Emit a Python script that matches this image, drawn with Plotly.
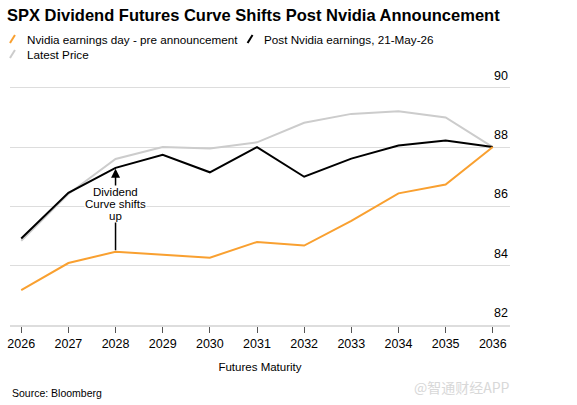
import plotly.graph_objects as go

years = [2026, 2027, 2028, 2029, 2030, 2031, 2032, 2033, 2034, 2035, 2036]
pre_announcement = [83.18, 84.09, 84.47, 84.38, 84.27, 84.80, 84.68, 85.51, 86.44, 86.74, 88.0]
post_earnings = [84.92, 86.46, 87.30, 87.74, 87.15, 88.0, 87.0, 87.61, 88.05, 88.22, 88.0]
latest_price = [84.84, 86.42, 87.60, 88.0, 87.95, 88.16, 88.82, 89.12, 89.21, 89.0, 88.0]
y_ticks = [82, 84, 86, 88, 90]
note_lines = ["Dividend", "Curve shifts", "up"]

names = ["Nvidia earnings day - pre announcement", "Post Nvidia earnings, 21-May-26", "Latest Price"]
colors = ["#F9A030", "#000000", "#CCCCCC"]

FONT = "Liberation Sans, Arial, sans-serif"

fig = go.Figure()
fig.add_trace(go.Scatter(x=years, y=latest_price, mode="lines", name=names[2],
                         line=dict(color=colors[2], width=2)))
fig.add_trace(go.Scatter(x=years, y=post_earnings, mode="lines", name=names[1],
                         line=dict(color=colors[1], width=2)))
fig.add_trace(go.Scatter(x=years, y=pre_announcement, mode="lines", name=names[0],
                         line=dict(color=colors[0], width=2)))

# Arrow from orange curve to black curve at 2028
i28 = years.index(2028)
fig.add_annotation(x=2028, y=post_earnings[i28] - 0.03, ax=2028, ay=pre_announcement[i28],
                   xref="x", yref="y", axref="x", ayref="y", text="", showarrow=True,
                   arrowhead=2, arrowsize=1.2, arrowwidth=1.5, arrowcolor="#000000")
for k, line_txt in enumerate(note_lines):
    fig.add_annotation(x=2028, y=86.48 - k * 0.41, xref="x", yref="y", showarrow=False,
                       text=line_txt, bgcolor="white",
                       font=dict(family=FONT, size=11.5, color="#000000"), borderpad=0)

# Manual legend
legend_items = [(names[0], colors[0], 7, 39), (names[1], colors[1], 246, 39), (names[2], colors[2], 7, 54)]
for label, col, px, py in legend_items:
    fig.add_shape(type="line", xref="paper", yref="paper",
                  x0=(px - 7) / 503, x1=(px - 7 + 5) / 503,
                  y0=(325 - (py + 4)) / 255, y1=(325 - (py - 4)) / 255,
                  line=dict(color=col, width=2))
    fig.add_annotation(x=(px - 7 + 15) / 503, y=(325 - py) / 255, xref="paper", yref="paper",
                       xanchor="left", yanchor="middle", showarrow=False, text=label,
                       font=dict(family=FONT, size=11.7, color="#000000"))

# Y tick labels (right side, above gridlines)
for v in y_ticks:
    fig.add_annotation(x=1, y=v, xref="paper", yref="y", showarrow=False, text=str(v),
                       xanchor="right", yanchor="bottom", yshift=3,
                       font=dict(family=FONT, size=12.5, color="#000000"))

fig.update_layout(
    width=577, height=405,
    margin=dict(l=7, r=67, t=70, b=80),
    paper_bgcolor="white", plot_bgcolor="white",
    showlegend=False,
    font=dict(family=FONT, size=12, color="#000000"),
    title=dict(text="<b>SPX Dividend Futures Curve Shifts Post Nvidia Announcement</b>",
               x=7 / 577, xanchor="left", y=1 - 15 / 405, yanchor="middle",
               font=dict(family=FONT, size=16.5, color="#000000")),
    xaxis=dict(range=[2025.762, 2036.365], tickmode="array", tickvals=years,
               ticktext=[str(y) for y in years], showgrid=False, zeroline=False,
               ticks="outside", ticklen=6, tickcolor="#555555", tickwidth=1,
               showline=True, linecolor="#DDDDDD", linewidth=2,
               tickfont=dict(size=12.5),
               title=dict(text="Futures Maturity", font=dict(size=11.5), standoff=13)),
    yaxis=dict(range=[82, 90.6], side="right", tickmode="array", tickvals=y_ticks,
               showticklabels=False, showgrid=True, gridcolor="#DDDDDD", gridwidth=1,
               zeroline=False, showline=False),
)

fig.add_annotation(x=0, y=(325 - 393) / 255, xref="paper", yref="paper", showarrow=False,
                   text="Source: Bloomberg", xanchor="left", yanchor="middle",
                   font=dict(family=FONT, size=10.5, color="#000000"))

fig.add_annotation(x=(512 - 7) / 503, y=(325 - 387) / 255, xref="paper", yref="paper",
                   showarrow=False, text="@智通财经APP", xanchor="right", yanchor="middle",
                   font=dict(family="Noto Sans CJK SC", size=14, color="#D8D8D8"))

fig.write_html("out.html")
